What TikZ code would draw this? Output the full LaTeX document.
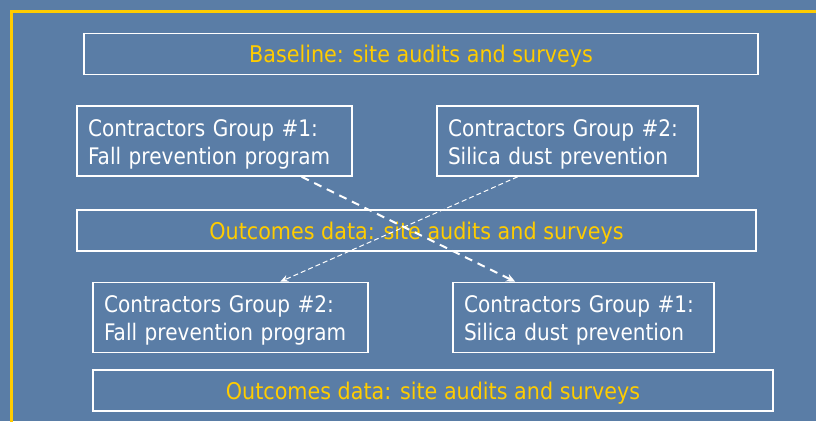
\documentclass[tikz,border=0pt]{standalone}
\usepackage{fontspec}
\setmainfont{DejaVu Sans}
\newfontfamily\boxfont[FakeStretch=0.88]{DejaVu Sans}
\newfontfamily\barfont[FakeStretch=0.9]{DejaVu Sans}
\usetikzlibrary{arrows.meta,calc}
\definecolor{slideblue}{RGB}{90,125,166}
\definecolor{gold}{RGB}{255,204,0}

\begin{document}
\begin{tikzpicture}[
    x=1pt, y=-1pt,
    bar/.style={draw=white, line width=1.6pt, minimum width=#1, minimum height=41pt, inner sep=0pt, text depth=0pt, text=gold, font=\barfont\fontsize{23}{28}\selectfont},
    program/.style={draw=white, line width=1.6pt, text width=#1, minimum height=70pt, inner xsep=11pt, inner ysep=0pt, text depth=26pt, align=left, text=white, font=\boxfont\fontsize{22.8}{28}\selectfont},
    bigdash/.style={-{Stealth[length=9pt,width=8pt]}, white, line width=2pt, dash pattern=on 8pt off 6pt},
    smalldash/.style={-{Stealth[length=8pt,width=7pt]}, white, line width=1pt, dash pattern=on 5pt off 3pt}
]
% Slide background and frame
\useasboundingbox (0,0) rectangle (816,421);
\fill[slideblue] (0,0) rectangle (816,421);
\begin{scope}
  \clip (0,0) rectangle (816,421);
  \draw[gold, line width=3.5pt] (11.5,11.5) rectangle (850,450);
\end{scope}

% Phase 0
\node[bar=674pt] (base) at (421,54) {Baseline: site audits and surveys};

% Phase 1
\node[program=253pt] (g1) at (214.5,141) {Contractors Group \#1:\\Fall prevention program};
\node[program=239pt] (g2) at (567.5,141) {Contractors Group \#2:\\Silica dust prevention};
\node[bar=679pt] (mid) at (416.5,230.5) {Outcomes data: site audits and surveys};

% Phase 2
\node[program=253pt] (g2b) at (230.5,317.5) {Contractors Group \#2:\\Fall prevention program};
\node[program=239pt] (g1b) at (583.5,317.5) {Contractors Group \#1:\\Silica dust prevention};
\node[bar=680pt] (end) at (433,390.5) {Outcomes data: site audits and surveys};

% Cross-over
\draw[bigdash] ($(g1.south west)!0.815!(g1.south east)$) -- ($(g1b.north west)!0.24!(g1b.north east)$);
\draw[smalldash] ($(g2.south west)!0.31!(g2.south east)$) -- ($(g2b.north west)!0.68!(g2b.north east)$);
\end{tikzpicture}
\end{document}
